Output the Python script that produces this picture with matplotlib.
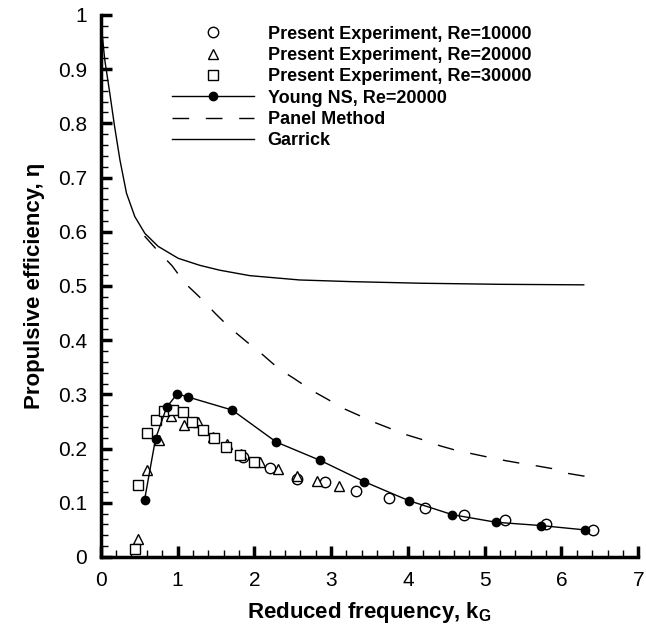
import numpy as np
import matplotlib
matplotlib.use("Agg")
import matplotlib.pyplot as plt
from matplotlib.ticker import MultipleLocator

plt.rcParams['font.family'] = ['Liberation Sans', 'DejaVu Sans']
plt.rcParams['mathtext.fontset'] = 'custom'
plt.rcParams['mathtext.rm'] = 'Liberation Sans:bold'
plt.rcParams['mathtext.it'] = 'Liberation Sans:bold'

# experiments (open symbols)
exp10k_k = [1.855, 2.20, 2.56, 2.92, 3.33, 3.76, 4.22, 4.73, 5.26, 5.80, 6.41]
exp10k_eta = [0.185, 0.165, 0.144, 0.139, 0.122, 0.108, 0.090, 0.077, 0.068, 0.060, 0.049]

exp20k_k = [0.49, 0.60, 0.76, 0.92, 1.08, 1.27, 1.46, 1.64, 1.83, 2.08, 2.31, 2.56, 2.82, 3.10]
exp20k_eta = [0.033, 0.161, 0.215, 0.260, 0.244, 0.249, 0.222, 0.208, 0.190, 0.176, 0.162, 0.149, 0.141, 0.130]

exp30k_k = [0.443, 0.49, 0.60, 0.717, 0.82, 0.94, 1.07, 1.19, 1.33, 1.47, 1.63, 1.81, 2.00]
exp30k_eta = [0.014, 0.132, 0.228, 0.253, 0.269, 0.271, 0.268, 0.249, 0.234, 0.220, 0.202, 0.189, 0.176]

# Young NS
young_k = [0.57, 0.713, 0.857, 0.995, 1.138, 1.712, 2.286, 2.86, 3.43, 4.01, 4.58, 5.15, 5.73, 6.30]
young_eta = [0.105, 0.218, 0.276, 0.301, 0.295, 0.271, 0.212, 0.178, 0.139, 0.104, 0.078, 0.064, 0.058, 0.050]

# panel method
panel_k = [0.57, 0.76, 0.93, 1.09, 1.29, 1.50, 1.68, 1.90, 2.11, 2.32, 2.52, 2.75, 2.94, 3.16, 3.35,
           3.57, 3.77, 3.99, 4.20, 4.42, 4.62, 4.85, 5.05, 5.26, 5.46, 5.68, 5.88, 6.09, 6.30]
panel_eta = [0.592, 0.562, 0.537, 0.506, 0.479, 0.448, 0.423, 0.397, 0.373, 0.347, 0.329, 0.307, 0.292,
             0.274, 0.262, 0.248, 0.237, 0.225, 0.216, 0.205, 0.197, 0.190, 0.184, 0.178, 0.173,
             0.168, 0.163, 0.154, 0.149]

# Garrick
garrick_k = [0.0, 0.017, 0.052, 0.117, 0.18, 0.25, 0.335, 0.443, 0.574, 0.747, 1.008, 1.29, 1.55,
             1.94, 2.59, 3.25, 4.16, 5.2, 6.29]
garrick_eta = [1.0, 0.966, 0.917, 0.856, 0.794, 0.732, 0.671, 0.628, 0.597, 0.573, 0.551, 0.538,
               0.529, 0.519, 0.511, 0.508, 0.505, 0.503, 0.502]

fig = plt.figure(figsize=(6.46, 6.34), dpi=100)
ax = fig.add_axes([0.156, 0.1215, 0.832, 0.855])

ax.plot(exp10k_k, exp10k_eta, 'o', mfc='white', mec='black', ms=7.5, mew=1.0,
        label='Present Experiment, Re=10000', zorder=3)
ax.plot(exp20k_k, exp20k_eta, '^', mfc='white', mec='black', ms=7.5, mew=1.0,
        label='Present Experiment, Re=20000', zorder=3)
ax.plot(exp30k_k, exp30k_eta, 's', mfc='white', mec='black', ms=6.5, mew=1.0,
        label='Present Experiment, Re=30000', zorder=3)
ax.plot(young_k, young_eta, '-o', color='black', ms=6, lw=1.0,
        label='Young NS, Re=20000', zorder=4)
ax.plot(panel_k, panel_eta, color='black', lw=1.0, dashes=(12, 12), label='Panel Method')
ax.plot(garrick_k, garrick_eta, color='black', lw=1.0, label='Garrick')

ax.set_xlim(0, 7)
ax.set_ylim(0, 1)
ax.xaxis.set_major_locator(MultipleLocator(1))
ax.xaxis.set_minor_locator(MultipleLocator(0.2))
ax.yaxis.set_minor_locator(MultipleLocator(0.02))
ax.set_yticks(np.arange(0, 1.01, 0.1))
ax.set_yticklabels(['0'] + ['%.1f' % v for v in np.arange(0.1, 0.95, 0.1)] + ['1'])

for s in ['top', 'right']:
    ax.spines[s].set_visible(False)
for s in ['left', 'bottom']:
    ax.spines[s].set_linewidth(2.5)

ax.tick_params(which='major', direction='in', length=8, width=2.5, labelsize=15, pad=10)
ax.tick_params(which='minor', direction='in', length=5, width=1.0)

ax.set_xlabel(r'Reduced frequency, k$_{\rm G}$', fontsize=16, fontweight='bold', labelpad=7)
ax.set_ylabel('Propulsive efficiency, η', fontsize=16, fontweight='bold', labelpad=9)

ax.legend(loc='upper left', bbox_to_anchor=(0.133, 0.98), frameon=False,
          prop={'weight': 'bold', 'size': 13}, handlelength=4.5, handletextpad=0.78,
          labelspacing=0.24, borderpad=0, borderaxespad=0)

fig.savefig('out.png', dpi=100)
